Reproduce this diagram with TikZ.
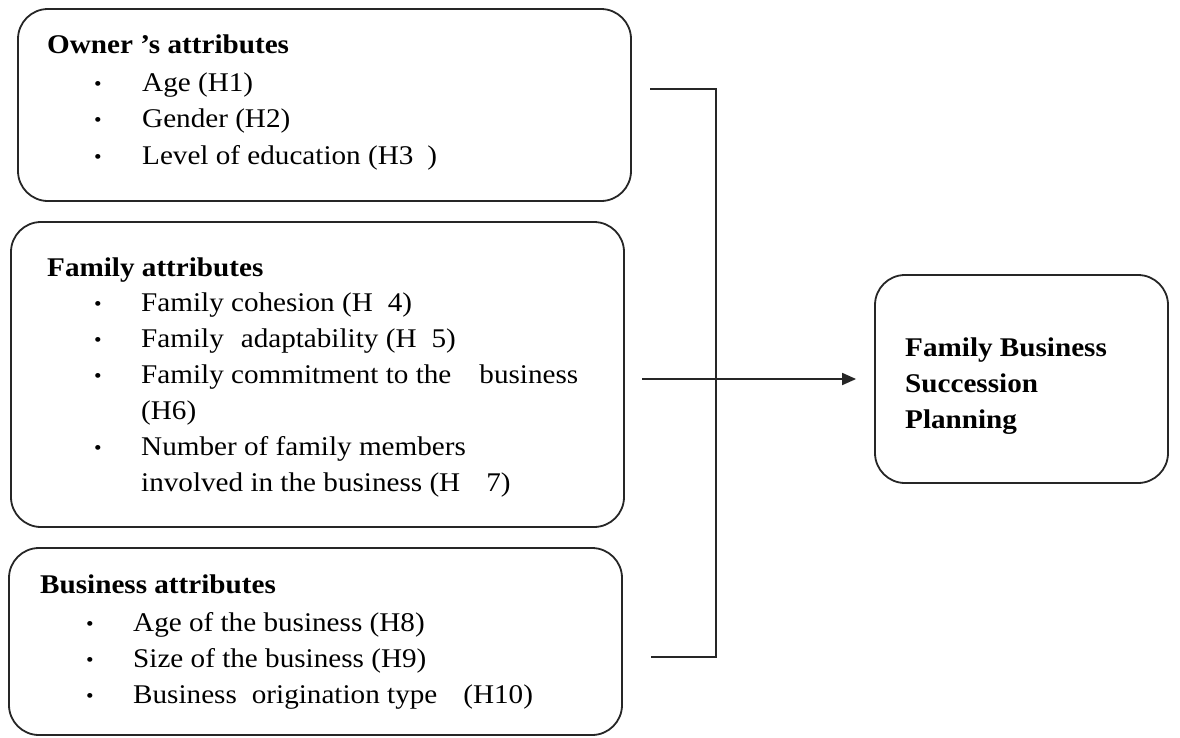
\documentclass[tikz,border=0pt]{standalone}
\usepackage{fontspec}
\setmainfont{Liberation Serif}[FakeStretch=1.08]
\usetikzlibrary{arrows.meta}
\begin{document}
\begin{tikzpicture}[x=1pt,y=-1pt,
  box/.style={draw=black!85,line width=1.8pt,rounded corners=30pt,inner sep=0pt},
  ln/.style={anchor=base west,inner sep=0pt,font=\fontsize{27}{36}\selectfont},
  hd/.style={ln,font=\fontsize{27}{36}\selectfont\bfseries},
  bul/.style={anchor=center,inner sep=0pt,font=\fontsize{20}{20}\selectfont},
  wire/.style={draw=black!85,line width=1.8pt},
  arr/.style={wire,-{Triangle[length=14pt,width=12pt]}}]
\useasboundingbox (0,0) rectangle (1180,737);
% boxes
\node[box,minimum width=613pt,minimum height=192pt] (own) at (324.5,105) {};
\node[box,minimum width=613pt,minimum height=305pt] (fam) at (317.5,374.5) {};
\node[box,minimum width=613pt,minimum height=187pt] (bus) at (315.5,641.5) {};
\node[box,minimum width=293pt,minimum height=208pt] (fbsp) at (1021.5,379) {};
% owner's attributes
\node[hd] (t1) at (47,53) {Owner ’s attributes};
\node[bul] (b11) at (98,86) {•}; \node[ln] (l11) at (142,91) {Age (H1)};
\node[bul] (b12) at (98,122) {•}; \node[ln] (l12) at (142,127) {Gender (H2)};
\node[bul] (b13) at (98,159) {•}; \node[ln] (l13) at (142,164) {Level of education (H3\hspace{14pt})};
% family attributes
\node[hd] (t2) at (47,276) {Family attributes};
\node[bul] (b21) at (98,306) {•}; \node[ln] (l21) at (141,311) {Family cohesion (H\hspace{15pt}4)};
\node[bul] (b22) at (98,342) {•}; \node[ln] (l22) at (141,347) {Family\hspace{17pt}adaptability (H\hspace{15pt}5)};
\node[bul] (b23) at (98,378) {•}; \node[ln] (l23) at (141,383) {Family commitment to the\hspace{28pt}business};
\node[ln] (l24) at (141,419) {(H6)};
\node[bul] (b25) at (98,450) {•}; \node[ln] (l25) at (141,455) {Number of family members};
\node[ln] (l26) at (141,491) {involved in the business (H\hspace{26pt}7)};
% business attributes
\node[hd] (t3) at (40,593) {Business attributes};
\node[bul] (b31) at (90,626) {•}; \node[ln] (l31) at (133,631) {Age of the business (H8)};
\node[bul] (b32) at (90,662) {•}; \node[ln] (l32) at (133,667) {Size of the business (H9)};
\node[bul] (b33) at (90,698) {•}; \node[ln] (l33) at (133,703) {Business\hspace{15pt}origination type\hspace{26pt}(H10)};
% outcome
\node[hd] (o1) at (905,356) {Family Business};
\node[hd] (o2) at (905,392) {Succession};
\node[hd] (o3) at (905,428) {Planning};
% bracket and arrow
\coordinate (bta) at (650,89);
\coordinate (btb) at (716,89);
\coordinate (bbb) at (716,657);
\coordinate (bba) at (651,657);
\coordinate (as) at (642,379);
\draw[wire] (bta) -- (btb) -- (bbb) -- (bba);
\draw[arr,shorten >=18pt] (as) -- (fbsp.west);
\end{tikzpicture}
\end{document}
